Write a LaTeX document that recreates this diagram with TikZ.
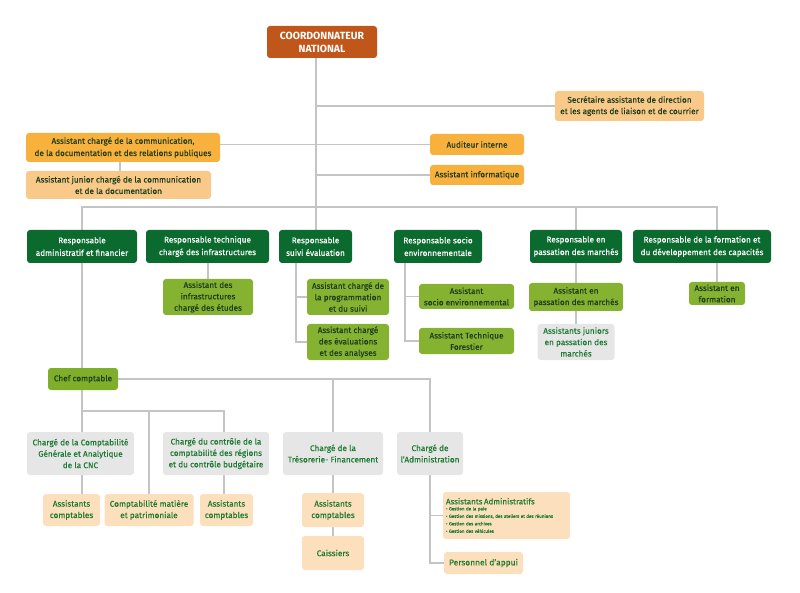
\documentclass[tikz,border=0pt]{standalone}
\usepackage{fontspec}
\setmainfont{Fira Sans}[FakeBold=0.3]
\newfontfamily\titlefont{Fira Sans}
\usetikzlibrary{backgrounds}
\definecolor{cOrDark}{HTML}{C1561B}
\definecolor{cOr}{HTML}{F9B13D}
\definecolor{cLight}{HTML}{F9C98A}
\definecolor{cGrDark}{HTML}{0B6B2F}
\definecolor{cGr}{HTML}{86B231}
\definecolor{cChef}{HTML}{7EAE2A}
\definecolor{cGrey}{HTML}{E6E6E6}
\definecolor{cPeach}{HTML}{FCDFBD}
\definecolor{cDark}{HTML}{1F3D1C}
\definecolor{cGrText}{HTML}{1E7A33}
\definecolor{cLine}{HTML}{C4C4C4}
\begin{document}
\begin{tikzpicture}[x=1pt,y=-1pt,
  box/.style={rounded corners=3pt, align=center, inner sep=1pt, font=\fontsize{8.2}{11.4}\selectfont},
  coordbox/.style={box, fill=cOrDark, text=white, font=\titlefont\fontsize{10.4}{13}\selectfont\bfseries},
  orbox/.style={box, fill=cOr, text=cDark},
  ltbox/.style={box, fill=cLight, text=cDark},
  rbox/.style={box, fill=cGrDark, text=white},
  gbox/.style={box, fill=cGr, text=cDark},
  chefbox/.style={box, fill=cChef, text=cDark},
  grbox/.style={box, fill=cGrey, text=cGrText},
  pbox/.style={box, fill=cPeach, text=cGrText},
  link/.style={draw=cLine, line width=1.3pt}]
\useasboundingbox (0,0) rectangle (800,593);

% top
\node[coordbox, minimum width=110pt, minimum height=32pt] (coord) at (322,42) {COORDONNATEUR\\NATIONAL};
\node[ltbox, minimum width=149pt, minimum height=30pt] (sec) at (629.5,106) {Secrétaire assistante de direction\\et les agents de liaison et de courrier};
\node[orbox, minimum width=194pt, minimum height=29pt, font=\fontsize{8.2}{12.2}\selectfont] (comm) at (123,147.5) {Assistant chargé de la communication,\\de la documentation et des relations publiques};
\node[orbox, minimum width=94pt, minimum height=21pt] (audit) at (477,144.5) {Auditeur interne};
\node[ltbox, minimum width=185pt, minimum height=28pt] (junior) at (118.5,185) {Assistant junior chargé de la communication\\et de la documentation};
\node[orbox, minimum width=94pt, minimum height=20pt] (info) at (477,175) {Assistant informatique};

% responsables
\node[rbox, minimum width=110pt, minimum height=33pt, font=\fontsize{8.2}{12.6}\selectfont] (radmin) at (82,246.5) {Responsable\\administratif et financier};
\node[rbox, minimum width=123pt, minimum height=33pt, font=\fontsize{8.2}{12.6}\selectfont] (rtech) at (207.5,246.5) {Responsable technique\\chargé des infrastructures};
\node[rbox, minimum width=73pt, minimum height=33pt, font=\fontsize{8.2}{12.6}\selectfont] (rsuivi) at (315.5,246.5) {Responsable\\suivi évaluation};
\node[rbox, minimum width=88pt, minimum height=33pt, font=\fontsize{8.2}{12.6}\selectfont] (rsocio) at (438,246.5) {Responsable socio\\environnementale};
\node[rbox, minimum width=92pt, minimum height=33pt, font=\fontsize{8.2}{12.6}\selectfont] (rpass) at (576,246.5) {Responsable en\\passation des marchés};
\node[rbox, minimum width=138pt, minimum height=33pt, font=\fontsize{8.2}{12.6}\selectfont] (rform) at (702,246.5) {Responsable de la formation et\\du développement des capacités};

% assistants
\node[gbox, minimum width=90pt, minimum height=36pt] (ainfra) at (208,297) {Assistant des\\infrastructures\\chargé des études};
\node[gbox, minimum width=82pt, minimum height=36pt] (aprog) at (348,297) {Assistant chargé de\\la programmation\\et du suivi};
\node[gbox, minimum width=82pt, minimum height=36pt] (aeval) at (348,342) {Assistant chargé\\des évaluations\\et des analyses};
\node[gbox, minimum width=95pt, minimum height=25pt] (asocio) at (466.5,296.5) {Assistant\\socio environnemental};
\node[gbox, minimum width=95pt, minimum height=26pt] (aforest) at (466.5,341) {Assistant Technique\\Forestier};
\node[gbox, minimum width=94pt, minimum height=28pt] (apass) at (576,297) {Assistant en\\passation des marchés};
\node[grbox, minimum width=77pt, minimum height=36pt] (ajun) at (576,342) {Assistants juniors\\en passation des\\marchés};
\node[gbox, minimum width=56pt, minimum height=23pt] (aform) at (717,293.5) {Assistant en\\formation};

% comptabilite
\node[chefbox, minimum width=70pt, minimum height=22pt] (chef) at (83,379) {Chef comptable};
\node[grbox, minimum width=107pt, minimum height=43pt] (cgen) at (80.5,453.5) {Chargé de la Comptabilité\\Générale et Analytique\\de la CNC};
\node[grbox, minimum width=106pt, minimum height=43pt] (cctrl) at (216,453.5) {Chargé du contrôle de la\\comptabilité des régions\\et du contrôle budgétaire};
\node[grbox, minimum width=100pt, minimum height=43pt] (ctres) at (333,453.5) {Chargé de la\\Trésorerie- Financement};
\node[grbox, minimum width=66pt, minimum height=43pt] (cadm) at (430,453.5) {Chargé de\\l’Administration};
\node[pbox, minimum width=57pt, minimum height=32pt] (ac1) at (71.5,510) {Assistants\\comptables};
\node[pbox, minimum width=89pt, minimum height=32pt] (cmat) at (149,510) {Comptabilité matière\\et patrimoniale};
\node[pbox, minimum width=53pt, minimum height=32pt] (ac2) at (226.5,510) {Assistants\\comptables};
\node[pbox, minimum width=62pt, minimum height=34pt] (ac3) at (333,510) {Assistants\\comptables};
\node[pbox, minimum width=62pt, minimum height=34pt] (caiss) at (333,553) {Caissiers};
\node[pbox, minimum width=127pt, minimum height=47pt, text width=121pt, align=left, font=\fontsize{4.5}{7.5}\selectfont] (aadm) at (506.5,515.5) {\fontsize{8}{10}\selectfont Assistants Administratifs\\[-1.5pt]\fontsize{4.5}{7.5}\selectfont • Gestion de la paie\\• Gestion des missions, des ateliers et des réunions\\• Gestion des archives\\• Gestion des véhicules};
\node[pbox, minimum width=79pt, minimum height=22pt, font=\fontsize{8.4}{10}\selectfont] (pers) at (483.5,563) {Personnel d’appui};

\coordinate (trunk) at (316,0);
\coordinate (jx) at (120,0);
\coordinate (busL) at (82,207);
\coordinate (busR) at (717,207);
\coordinate (sx) at (296,0);
\coordinate (ex) at (405,0);
\coordinate (cy2) at (0,411);
\coordinate (cx2) at (224,0);

\begin{pgfonlayer}{background}
\draw[link] (coord.south -| trunk) -- (rsuivi.north -| trunk);
\draw[link] (trunk |- sec.west) -- (sec.west);
\draw[link] (comm.east |- audit.west) -- (audit.west);
\draw[link] (trunk |- info.west) -- (info.west);
\draw[link] (comm.south -| jx) -- (junior.north -| jx);
\draw[link] (busL |- radmin.north) -- (busL) -- (busR) -- (busR |- rform.north);
\draw[link] (rpass.north) -- (rpass.north |- busL);
\draw[link] (busL |- radmin.south) -- (busL |- chef.north);
\draw[link] (rtech.south -| ainfra.north) -- (ainfra.north);
\draw[link] (sx |- rsuivi.south) -- (sx |- aeval.west) -- (aeval.west);
\draw[link] (sx |- aprog.west) -- (aprog.west);
\draw[link] (ex |- rsocio.south) -- (ex |- aforest.west) -- (aforest.west);
\draw[link] (ex |- asocio.west) -- (asocio.west);
\draw[link] (rpass.south) -- (apass.north);
\draw[link] (apass.south) -- (ajun.north);
\draw[link] (rform.south -| aform.north) -- (aform.north);
\draw[link] (chef.east) -| (cadm.north);
\draw[link] (ctres.north |- chef.east) -- (ctres.north);
\draw[link] (busL |- chef.south) -- (busL |- cgen.north);
\draw[link] (busL |- cy2) -- (cx2 |- cy2) -- (cx2 |- cctrl.north);
\draw[link] (cmat.north |- cy2) -- (cmat.north);
\draw[link] (busL |- cgen.south) -- (busL |- ac1.north);
\draw[link] (cx2 |- cctrl.south) -- (cx2 |- ac2.north);
\draw[link] (ctres.south) -- (ac3.north);
\draw[link] (ac3.south) -- (caiss.north);
\draw[link] (cadm.south) -- (cadm.south |- pers.west) -- (pers.west);
\draw[link] (cadm.south |- aadm.west) -- (aadm.west);
\end{pgfonlayer}
\end{tikzpicture}
\end{document}
